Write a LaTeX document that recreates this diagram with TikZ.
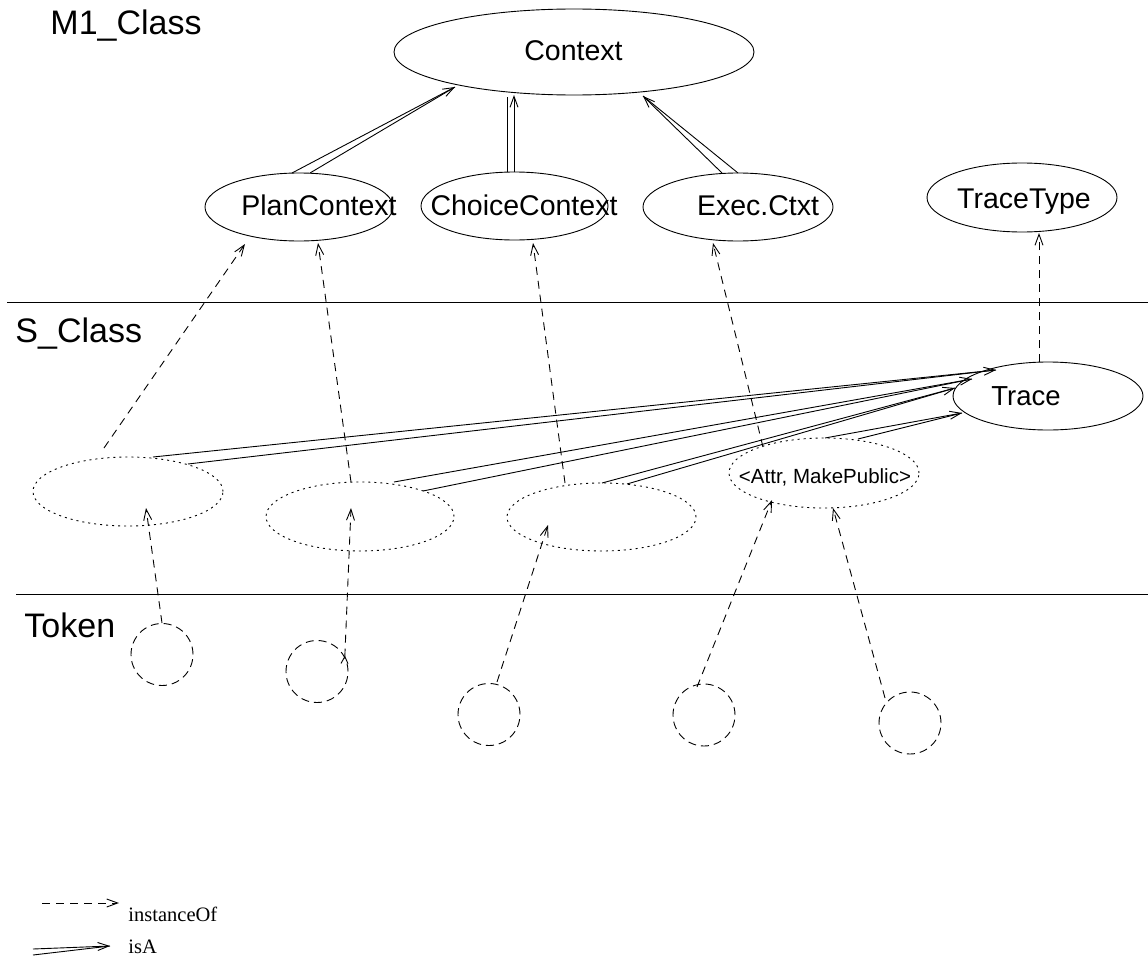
\documentclass[tikz,border=0pt]{standalone}
\usepackage{fontspec}
\setmainfont{Liberation Sans}
\newfontfamily\legendfont{Liberation Serif}
\usetikzlibrary{arrows.meta,shapes.geometric,calc}

\tikzset{
  >={Straight Barb[length=11pt,width=8pt]},
  rule/.style={draw, line width=0.9pt},
  lvl/.style={anchor=base west, inner sep=0pt, font=\fontsize{34}{40}\selectfont},
  txt/.style={anchor=base, inner sep=0pt, font=\fontsize{28.5}{34}\selectfont},
  smalltxt/.style={anchor=base, inner sep=0pt, font=\fontsize{20.5}{24}\selectfont},
  legtxt/.style={anchor=base west, inner sep=0pt, font=\legendfont\fontsize{20.5}{24}\selectfont},
  oval/.style 2 args={draw, ellipse, inner sep=0pt, outer sep=0pt,
    minimum width=#1, minimum height=#2},
  dotoval/.style 2 args={oval={#1}{#2}, dash pattern=on 2pt off 4pt},
  tok/.style={draw, circle, inner sep=0pt, outer sep=0pt, minimum size=62pt,
    dash pattern=on 8pt off 5pt},
  inst/.style={->, dash pattern=on 8pt off 6pt},
  isa/.style={->},
  isaside/.style={},
}

\begin{document}
\begin{tikzpicture}[x=1pt, y=-1pt, line width=0.9pt]
\useasboundingbox (0,0) rectangle (1148,958);

% layer separators
\coordinate (r1a) at (7,302);  \coordinate (r1b) at (1148,302);
\coordinate (r2a) at (16,594); \coordinate (r2b) at (1148,594);
\draw[rule] (r1a) -- (r1b);
\draw[rule] (r2a) -- (r2b);

% layer names
\node[lvl] (lm1) at (50,35)  {M1\_Class};
\node[lvl] (ls)  at (15,342) {S\_Class};
\node[lvl] (lt)  at (24,637) {Token};

% M1 classes
\node[oval={360pt}{86pt}] (ctx) at (574,52) {};
\node[txt] (ctx-t) at (573.5,61) {Context};
\node[oval={188pt}{68pt}] (pc) at (299,207) {};
\node[txt] (pc-t) at (319,215) {PlanContext};
\node[oval={187pt}{68pt}] (cc) at (514.5,206) {};
\node[txt] (cc-t) at (524,215) {ChoiceContext};
\node[oval={190pt}{68pt}] (ec) at (738,207) {};
\node[txt] (ec-t) at (758,215) {Exec.Ctxt};
\node[oval={190pt}{69pt}] (tt) at (1022,197.5) {};
\node[txt] (tt-t) at (1024,208) {TraceType};

% S classes
\node[oval={190pt}{68pt}] (tr) at (1048,396) {};
\node[txt, font=\fontsize{27.5}{33}\selectfont] (tr-t) at (1026,405) {Trace};
\node[dotoval={190pt}{70pt}] (at) at (824,473) {};
\node[smalltxt] (at-t) at (825,483) {<Attr, MakePublic>};
\node[dotoval={190pt}{69pt}] (s1) at (128,491.5) {};
\node[dotoval={188pt}{69pt}] (s2) at (360,516.5) {};
\node[dotoval={189pt}{68pt}] (s3) at (601.5,517) {};

% tokens
\node[tok] (k1) at (162,654.5) {};
\node[tok] (k2) at (317,671.5) {};
\node[tok] (k3) at (489,714.5) {};
\node[tok] (k4) at (704,715) {};
\node[tok] (k5) at (910,723) {};

% isA: subclasses of Context
\draw[isa] ($(pc)+(-7,-34)$) -- ($(ctx)+(-119,35)$);
\draw[isaside] ($(pc)+(11,-34)$) -- ($(ctx)+(-119,35)$);
\draw[isaside] ($(cc)+(-7.5,-34)$) -- ($(ctx)+(-67,45)$);
\draw[isa] ($(cc)+(-0.5,-34)$) -- ($(ctx)+(-60,43)$);
\draw[isa] ($(ec)+(-16,-34)$) -- ($(ctx)+(69,44)$);
\draw[isaside] ($(ec)+(0,-34)$) -- ($(ctx)+(69,44)$);

% isA: subclasses of Trace
\draw[isa] ($(s1)+(25,-34.5)$) -- ($(tr)+(-52,-26)$);
\draw[isaside] ($(s1)+(60,-27.5)$) -- ($(tr)+(-52,-26)$);
\draw[isa] ($(s2)+(34,-34.5)$) -- ($(tr)+(-76,-17)$);
\draw[isaside] ($(s2)+(63,-25.5)$) -- ($(tr)+(-76,-17)$);
\draw[isa] ($(s3)+(0.5,-34)$) -- ($(tr)+(-93,-8)$);
\draw[isaside] ($(s3)+(25.5,-33)$) -- ($(tr)+(-93,-8)$);
\draw[isa] ($(at)+(1,-35)$) -- ($(tr)+(-86,17)$);
\draw[isaside] ($(at)+(34,-34)$) -- ($(tr)+(-86,17)$);

% instanceOf: S classes to M1 classes
\draw[inst] ($(s1)+(-24,-43.5)$) -- ($(pc)+(-54,37)$);
\draw[inst] ($(s2)+(-9,-34.5)$) -- ($(pc)+(19,36)$);
\draw[inst] ($(s3)+(-36.5,-34)$) -- ($(cc)+(18.5,37)$);
\draw[inst] ($(at)+(-61,-26)$) -- ($(ec)+(-25,36)$);
\draw[inst] ($(tr)+(-9,-34)$) -- ($(tt)+(17,35.5)$);

% instanceOf: tokens to S classes
\draw[inst] ($(k1)+(0,-31.5)$) -- ($(s1)+(18,16.5)$);
\draw[inst, arrows={Straight Barb[reversed,length=7pt,width=7pt]-Straight Barb[length=11pt,width=8pt]}]
  ($(k2)+(27.5,-7.5)$) -- ($(s2)+(-9,-8.5)$);
\draw[inst] ($(k3)+(8,-32.5)$) -- ($(s3)+(-53.5,8)$);
\draw[inst] ($(k4)+(-7,-28)$) -- ($(at)+(-52,27)$);
\draw[inst] ($(k5)+(-25,-25)$) -- ($(at)+(9,35)$);

% legend
\coordinate (li-a) at (42,903);
\coordinate (li-b) at (119,903);
\draw[inst] (li-a) -- (li-b);
\node[legtxt] (li-t) at (128,921) {instanceOf};
\coordinate (la-1) at (33,949);
\coordinate (la-2) at (33,955);
\coordinate (la-b) at (110,946);
\draw[isa] (la-1) -- (la-b);
\draw[isaside] (la-2) -- (la-b);
\node[legtxt] (la-t) at (128,953) {isA};
\end{tikzpicture}
\end{document}
